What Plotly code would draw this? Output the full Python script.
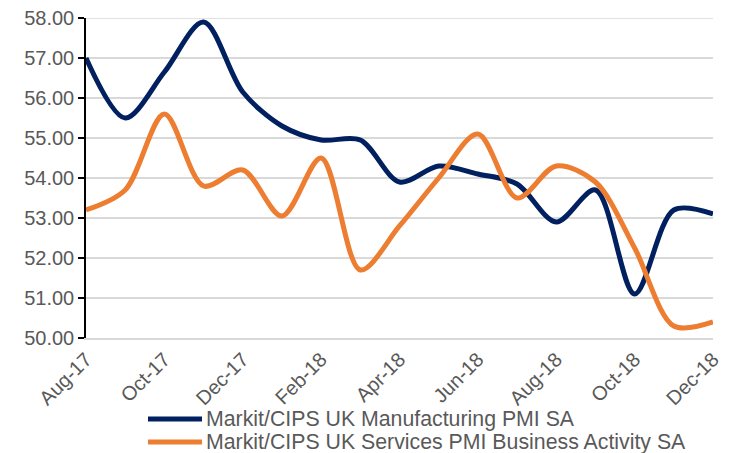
import plotly.graph_objects as go

months = ["Aug-17", "Sep-17", "Oct-17", "Nov-17", "Dec-17", "Jan-18", "Feb-18", "Mar-18",
          "Apr-18", "May-18", "Jun-18", "Jul-18", "Aug-18", "Sep-18", "Oct-18", "Nov-18", "Dec-18"]
manufacturing = [57.0, 55.5, 56.65, 57.9, 56.15, 55.3, 54.95, 54.95,
                 53.9, 54.3, 54.1, 53.85, 52.9, 53.7, 51.1, 53.2, 53.1]
services = [53.2, 53.7, 55.6, 53.8, 54.2, 53.05, 54.5, 51.7,
            52.8, 54.0, 55.1, 53.5, 54.3, 53.9, 52.25, 50.3, 50.4]
series_names = ["Markit/CIPS UK Manufacturing PMI SA",
                "Markit/CIPS UK Services PMI Business Activity SA"]
series_colors = ["#002060", "#ED7D31"]
tick_labels = months[::2]
y_ticks = [50, 51, 52, 53, 54, 55, 56, 57, 58]

# The page body adds an 8px offset; figure coordinates compensate for it.
OFF = 8
W, H = 733, 453
L, T = 86 - OFF, 18 - OFF
R = W - (713 - OFF)
B = H - (338 - OFF)
pw, ph = W - L - R, H - T - B

def px_x(px):
    return (px - OFF - L) / pw

def px_y(py):
    return (H - B - (py - OFF)) / ph

fig = go.Figure()
for name, vals, col in zip(series_names, [manufacturing, services], series_colors):
    fig.add_trace(go.Scatter(x=months, y=vals, mode="lines", name=name,
                             line=dict(color=col, width=5, shape="spline", smoothing=0.9)))

# top gridline (plotly hides the gridline that sits on the plot edge)
fig.add_shape(type="line", xref="paper", yref="y", x0=0, x1=1, y0=y_ticks[-1], y1=y_ticks[-1],
              line=dict(color="#D9D9D9", width=1.5), layer="below")

legend_rows = [419, 442]
for name, col, row in zip(series_names, series_colors, legend_rows):
    fig.add_shape(type="line", xref="paper", yref="paper",
                  x0=px_x(148), x1=px_x(202), y0=px_y(row), y1=px_y(row),
                  line=dict(color=col, width=5))
    fig.add_annotation(xref="paper", yref="paper", x=px_x(204), y=px_y(row),
                       xanchor="left", yanchor="middle", text=name, showarrow=False,
                       font=dict(size=21.3, color="#595959"))

fig.update_layout(
    width=W, height=H,
    margin=dict(l=L, r=R, t=T, b=B, autoexpand=False),
    paper_bgcolor="white", plot_bgcolor="white",
    font=dict(family="Liberation Sans, Arial, sans-serif", color="#595959"),
    showlegend=False,
)
fig.update_xaxes(type="category", range=[0, 16], tickvals=tick_labels, ticktext=tick_labels,
                 tickangle=-45, tickfont=dict(size=20, color="#595959"),
                 showgrid=False, showline=True, linecolor="#D9D9D9", linewidth=1.5,
                 ticks="", zeroline=False, automargin=False, ticklabeloverflow="allow")
fig.update_yaxes(range=[49.999, 58.001], tickvals=y_ticks, tickformat=".2f",
                 tickfont=dict(size=20, color="#595959"),
                 showgrid=True, gridcolor="#D9D9D9", gridwidth=1.5,
                 showline=True, linecolor="black", linewidth=1.5,
                 ticks="outside", ticklen=6, tickcolor="black", tickwidth=1.5,
                 zeroline=False, automargin=False, ticklabeloverflow="allow")

fig.write_html("out.html")
